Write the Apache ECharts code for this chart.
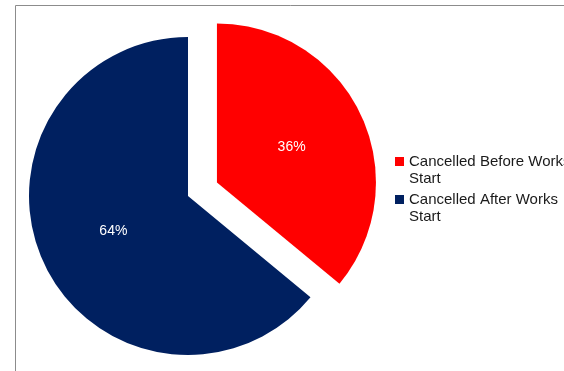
<!DOCTYPE html>
<html>
<head>
<meta charset="utf-8">
<script src="https://cdn.jsdelivr.net/npm/echarts@6/dist/echarts.min.js"></script>
<style>
    html, body { margin: 0; padding: 0; background: #fff; }
    #chart { width: 564px; height: 371px; }
</style>
</head>
<body>
<div id="chart"></div>
<script>
    // slice names and shares (%)
    var categories = ['Cancelled Before Works Start', 'Cancelled After Works Start'];
    var values = [36, 64];
    var colors = ['#ff0000', '#002060'];

    var chart = echarts.init(document.getElementById('chart'));

    var pieData = categories.map(function (name, i) {
        return {
            name: name,
            value: values[i],
            selected: i === 0,
            itemStyle: { color: colors[i] }
        };
    });

    // one legend per item so the square sits on the first text line
    function legendFor(i, top) {
        return {
            orient: 'vertical',
            left: 395,
            top: top,
            padding: 0,
            data: [categories[i]],
            icon: 'rect',
            itemWidth: 9,
            itemHeight: 9,
            selectedMode: false,
            formatter: function (name) {
                // blank first line pushes the text down half a block
                return '\n' + name.replace(' Start', '\nStart');
            },
            textStyle: {
                fontFamily: 'Liberation Sans, Arial, sans-serif',
                fontSize: 15,
                lineHeight: 17,
                color: '#1a1a1a'
            }
        };
    }

    var option = {
        animation: false,
        graphic: [
            {
                type: 'rect',
                silent: true,
                shape: { x: 15.5, y: 5.5, width: 700, height: 500 },
                style: { fill: 'none', stroke: '#8c8c8c', lineWidth: 1 }
            }
        ],
        legend: [legendFor(0, 136), legendFor(1, 174)],
        series: [
            {
                type: 'pie',
                center: [188, 196],
                radius: 159,
                startAngle: 90,
                clockwise: true,
                selectedMode: 'single',
                selectedOffset: 32,
                emphasis: { disabled: true },
                label: {
                    position: 'inside',
                    formatter: '{d}%',
                    color: '#ffffff',
                    fontFamily: 'Liberation Sans, Arial, sans-serif',
                    fontSize: 14
                },
                labelLine: { show: false },
                data: pieData
            }
        ]
    };

    chart.setOption(option);
</script>
</body>
</html>
